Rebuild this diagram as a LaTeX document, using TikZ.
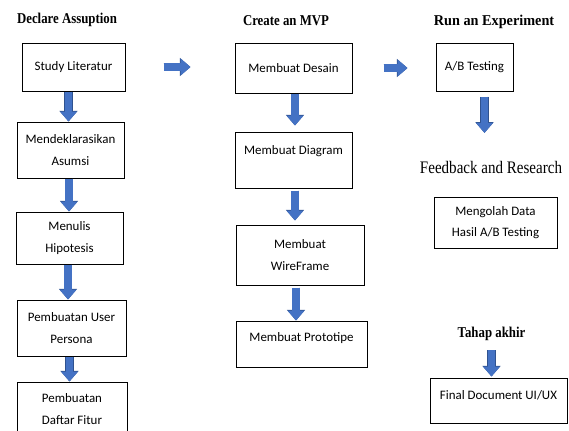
\documentclass[tikz,border=0pt]{standalone}
\usepackage{fontspec}
\usepackage{graphicx}
\setmainfont{Carlito}
\newfontfamily\titlefont{Liberation Serif}
\usetikzlibrary{arrows.meta}

\definecolor{arrowblue}{RGB}{68,114,196}
\definecolor{arrowedge}{RGB}{47,82,143}

\newcommand{\headtext}[2][0.855]{\scalebox{#1}[1]{#2}}

\begin{document}
\begin{tikzpicture}[x=0.75pt,y=0.75pt,yscale=-1,
  box/.style={draw, line width=0.75pt, align=center, inner sep=0pt,
    font=\fontsize{9.7pt}{16pt}\selectfont},
  size/.style 2 args={minimum width=#1*0.75pt, minimum height=#2*0.75pt},
  head/.style={inner sep=0.75pt, font=\titlefont\bfseries\fontsize{11.25pt}{13pt}\selectfont},
  blockarrow/.style={draw=arrowblue, line width=5.6pt,
    -{Triangle[width=12.4pt,length=7.5pt,fill=arrowblue]},
    preaction={draw=arrowedge, line width=6.4pt,
      -{Triangle[width=13.2pt,length=8pt,fill=arrowedge]}}}]
\clip (0,0) rectangle (569,430);

% Column titles
\node[head] (declare) at (67,20) {\headtext{Declare Assuption}};
\node[head] (mvp) at (286,21) {\headtext{Create an MVP}};
\node[head] (run) at (494,22) {\headtext[0.95]{Run an Experiment}};

% Declare Assuption column
\node[box, size={103}{48}] (study) at (73.5,67) {Study Literatur};
\node[box, size={107}{56}] (asumsi) at (70.5,150) {Mendeklarasikan\\Asumsi};
\node[box, size={107}{52}] (hipotesis) at (69.5,238) {Menulis\\Hipotesis};
\node[box, size={109}{56}] (persona) at (71.5,328) {Pembuatan User\\Persona};
\node[box, size={110}{54}] (fitur) at (72,409) {Pembuatan\\Daftar Fitur};

% Create an MVP column
\node[box, size={117}{50}] (desain) at (293.5,68) {Membuat Desain};
\node[box, size={117}{56}] (diagram) at (293.5,160) {Membuat Diagram\\[-1pt]};
\node[box, size={128}{60}] (wireframe) at (300,255) {Membuat\\WireFrame};
\node[box, size={131}{46}] (prototipe) at (301.5,344) {Membuat Prototipe\\[-5.5pt]};

% Run an Experiment column
\node[box, size={77}{48}] (abtest) at (474.5,67) {A/B Testing};
\node[inner sep=0.75pt, font=\titlefont\fontsize{13.2pt}{15pt}\selectfont] (feedback) at (491,167) {\headtext{Feedback and Research}};
\node[box, size={123}{51}] (olah) at (495.5,222.5) {Mengolah Data\\Hasil A/B Testing};
\node[head] (akhir) at (491.5,334) {\headtext{Tahap akhir}};
\node[box, size={137}{45}] (final) at (498.5,400.5) {Final Document UI/UX\\[-8.5pt]};

% Arrows down
\draw[blockarrow] ([xshift=-1.5pt]asumsi.north |- study.south) -- ([xshift=-1.5pt]asumsi.north);
\draw[blockarrow] ([xshift=-1.1pt]asumsi.south) -- ([xshift=-1.1pt]asumsi.south |- hipotesis.north);
\draw[blockarrow] ([xshift=-1.1pt]hipotesis.south) -- ([xshift=-1.1pt]hipotesis.south |- persona.north);
\draw[blockarrow] ([xshift=-1.5pt]persona.south) -- ([xshift=-1.5pt]persona.south |- fitur.north);
\draw[blockarrow, shorten >=4.5pt] ([xshift=1.1pt]desain.south) -- ([xshift=1.1pt]desain.south |- diagram.north);
\draw[blockarrow, shorten <=1.5pt, shorten >=3pt] ([xshift=1.1pt]diagram.south) -- ([xshift=1.1pt]diagram.south |- wireframe.north);
\draw[blockarrow, shorten <=1.5pt] ([xshift=-3pt]wireframe.south) -- ([xshift=-3pt]wireframe.south |- prototipe.north);
\draw[blockarrow, shorten <=3.75pt, shorten >=20pt] ([xshift=7.5pt]abtest.south) -- ([xshift=7.5pt]abtest.south |- feedback.north);
\draw[blockarrow, shorten <=6pt, shorten >=0.75pt] (akhir.south) -- (akhir.south |- final.north);

% Arrows between columns
\draw[blockarrow, shorten <=28.5pt, shorten >=33pt] (study.east) -- (study.east -| desain.west);
\draw[blockarrow, shorten <=23.25pt, shorten >=21pt] (desain.east) -- (desain.east -| abtest.west);

\end{tikzpicture}
\end{document}
